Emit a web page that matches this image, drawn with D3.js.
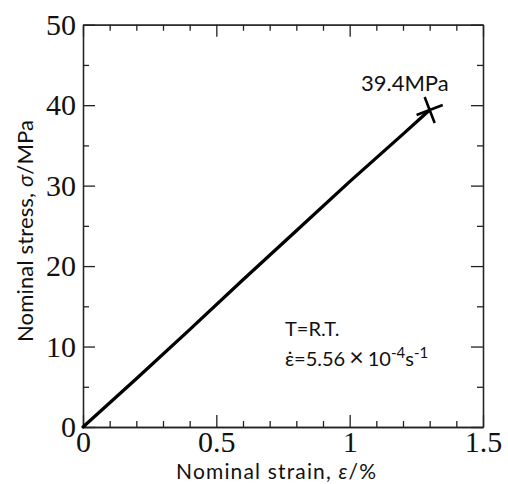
<!DOCTYPE html>
<html><head><meta charset="utf-8">
<title>Nominal stress-strain</title>
<script src="https://cdn.jsdelivr.net/npm/d3@7/dist/d3.min.js"></script>
<style>
body { margin: 0; background: #fff; }
</style>
</head>
<body>
<script>

// data
var strain = [0, 0.2, 0.4, 0.6, 0.8, 1.0, 1.2, 1.30];
var stress = [0, 6.0, 12.1, 18.3, 24.4, 30.5, 36.4, 39.4];

var xMajor = [0, 0.5, 1, 1.5];
var xLabels = ["0", "0.5", "1", "1.5"];
var yMajor = [0, 10, 20, 30, 40, 50];
var yLabels = ["0", "10", "20", "30", "40", "50"];
var xMinor = [0.1, 0.2, 0.3, 0.4, 0.6, 0.7, 0.8, 0.9, 1.1, 1.2, 1.3, 1.4];
var yMinor = [5, 15, 25, 35, 45];

var peakLabel = "39.4MPa";

var width = 508, height = 484;
var x0 = 83, x1 = 483, y0 = 427, y1 = 24.7;

var svg = d3.select("body").append("svg").attr("width", width).attr("height", height);

var x = d3.scaleLinear().domain([0, 1.5]).range([x0, x1]);
var y = d3.scaleLinear().domain([0, 50]).range([y0, y1]);

function styleAxis(g) {
	g.selectAll("path, line").attr("stroke", "#222").attr("stroke-width", 1.3);
	g.selectAll("text").attr("fill", "#111")
		.attr("font-family", "'Liberation Serif', 'Times New Roman', serif")
		.attr("font-size", "30px");
}

// major ticks with labels
svg.append("g").attr("transform", "translate(0," + y0 + ")")
	.call(d3.axisBottom(x).tickValues(xMajor).tickFormat(function(d, i) { return xLabels[i]; })
		.tickSizeInner(-12).tickSizeOuter(0).tickPadding(3.5))
	.call(styleAxis);
svg.append("g").attr("transform", "translate(" + x0 + ",0)")
	.call(d3.axisLeft(y).tickValues(yMajor).tickFormat(function(d, i) { return yLabels[i]; })
		.tickSizeInner(-12).tickSizeOuter(0).tickPadding(7))
	.call(styleAxis);
svg.append("g").attr("transform", "translate(0," + y1 + ")")
	.call(d3.axisTop(x).tickValues(xMajor).tickFormat("").tickSizeInner(-12).tickSizeOuter(0))
	.call(styleAxis);
svg.append("g").attr("transform", "translate(" + x1 + ",0)")
	.call(d3.axisRight(y).tickValues(yMajor).tickFormat("").tickSizeInner(-12).tickSizeOuter(0))
	.call(styleAxis);

// minor ticks
svg.append("g").attr("transform", "translate(0," + y0 + ")")
	.call(d3.axisBottom(x).tickValues(xMinor).tickFormat("").tickSizeInner(-6).tickSizeOuter(0))
	.call(styleAxis);
svg.append("g").attr("transform", "translate(0," + y1 + ")")
	.call(d3.axisTop(x).tickValues(xMinor).tickFormat("").tickSizeInner(-6).tickSizeOuter(0))
	.call(styleAxis);
svg.append("g").attr("transform", "translate(" + x0 + ",0)")
	.call(d3.axisLeft(y).tickValues(yMinor).tickFormat("").tickSizeInner(-6).tickSizeOuter(0))
	.call(styleAxis);
svg.append("g").attr("transform", "translate(" + x1 + ",0)")
	.call(d3.axisRight(y).tickValues(yMinor).tickFormat("").tickSizeInner(-6).tickSizeOuter(0))
	.call(styleAxis);

// curve
var pts = strain.map(function(d, i) { return [d, stress[i]]; });
var line = d3.line().x(function(d) { return x(d[0]); }).y(function(d) { return y(d[1]); });
svg.append("path").datum(pts)
	.attr("d", line)
	.attr("fill", "none")
	.attr("stroke", "#000")
	.attr("stroke-width", 3.3)
	.attr("stroke-linecap", "round")
	.attr("stroke-linejoin", "round");

// fracture cross
var last = pts[pts.length - 1];
svg.append("path")
	.attr("d", "M-14,0L14,0M0,-14L0,14")
	.attr("transform", "translate(" + x(last[0]) + "," + y(last[1]) + ") rotate(-21)")
	.attr("stroke", "#000")
	.attr("stroke-width", 2.6)
	.attr("fill", "none");

var sans = "Lato, 'Open Sans', sans-serif";

svg.append("text")
	.attr("x", x(last[0]) + 19).attr("y", y(last[1]) - 19)
	.attr("text-anchor", "end")
	.attr("font-family", sans).attr("font-size", "22px").attr("fill", "#111")
	.text(peakLabel);

// axis titles
var xt = svg.append("text")
	.attr("x", 276).attr("y", 479)
	.attr("text-anchor", "middle")
	.attr("textLength", 200).attr("lengthAdjust", "spacing")
	.attr("font-family", sans).attr("font-size", "21px").attr("fill", "#111");
xt.append("tspan").text("Nominal strain, ");
xt.append("tspan").attr("font-style", "italic").text("\u03B5");
xt.append("tspan").text("/%");

var yt = svg.append("text")
	.attr("transform", "translate(33,231) rotate(-90)")
	.attr("text-anchor", "middle")
	.attr("textLength", 222).attr("lengthAdjust", "spacing")
	.attr("font-family", sans).attr("font-size", "22px").attr("fill", "#111");
yt.append("tspan").text("Nominal stress, ");
yt.append("tspan").attr("font-style", "italic").text("\u03C3");
yt.append("tspan").text("/MPa");

// test conditions
svg.append("text")
	.attr("x", 285).attr("y", 336)
	.attr("font-family", sans).attr("font-size", "20px").attr("fill", "#111")
	.text("T=R.T.");

var cond = svg.append("text")
	.attr("x", 285).attr("y", 366)
	.attr("font-family", sans).attr("font-size", "20px").attr("fill", "#111");
cond.append("tspan").text("\u03B5\u0307=5.56");
cond.append("tspan").attr("dx", 4).attr("font-size", "25px").text("\u00D7");
cond.append("tspan").attr("dx", 4).text("10");
cond.append("tspan").attr("font-size", "15px").attr("dy", -8).text("-4");
cond.append("tspan").attr("dy", 8).text("s");
cond.append("tspan").attr("font-size", "15px").attr("dy", -8).text("-1");

</script>
</body></html>
